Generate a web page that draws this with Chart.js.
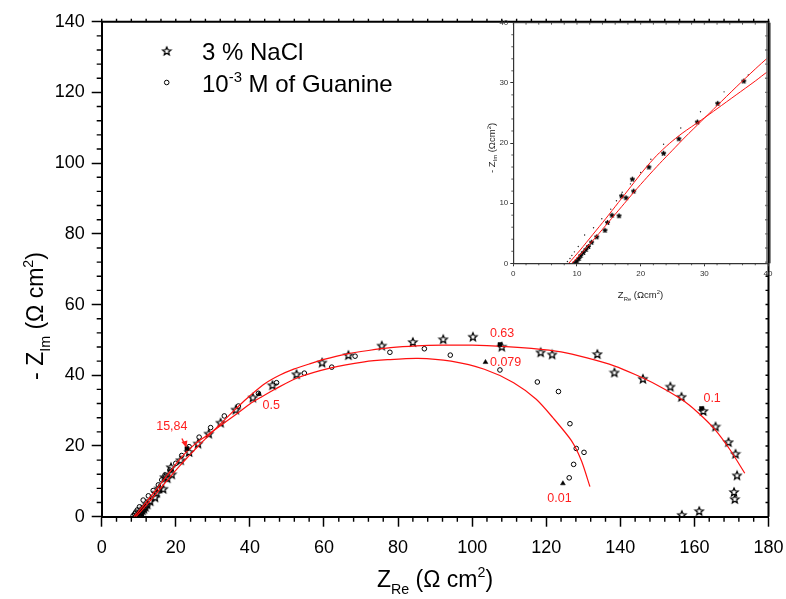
<!DOCTYPE html>
<html>
<head>
<meta charset="utf-8">
<script src="https://cdn.jsdelivr.net/npm/chart.js@4/dist/chart.umd.min.js"></script>
<style>
  html, body { margin: 0; padding: 0; background: #fff; }
  #wrap { position: relative; width: 786px; height: 599px; overflow: hidden; }
  #main { position: absolute; left: 0; top: 0; }
  #inset { position: absolute; left: 470px; top: 0; }
</style>
</head>
<body>
<div id="wrap">
  <canvas id="main" width="786" height="599"></canvas>
  <canvas id="inset" width="316" height="310"></canvas>
</div>
<script>
// ---- Nyquist data (Ω cm²) ----
// 3 % NaCl blank
const naclRe = [9.7,10.0,10.3,10.6,11.0,11.4,11.8,12.3,13.1,14.4,14.8,15.5,16.6,17.0,17.7,18.9,18.7,21.3,23.6,26.0,28.9,32.1,36.2,40.8,46.1,52.6,59.5,66.6,75.6,84.0,92.2,100.2,108.0,118.5,121.6,133.8,138.4,146.1,153.5,156.5,162.4,165.7,169.2,171.1,171.5,170.7,170.9,161.3,156.6];
const naclIm = [0.1,0.4,0.8,1.3,1.8,2.3,2.8,3.5,4.4,5.5,6.8,8.0,7.9,11.2,10.9,12.0,14.0,16.0,18.3,20.7,23.5,26.6,30.3,33.7,37.2,40.3,43.6,45.7,48.4,49.4,50.2,50.9,48.1,46.5,45.9,46.0,40.8,39.0,36.8,33.9,29.9,25.5,21.1,17.8,11.7,7.0,5.0,1.6,0.5];

// 10^-3 M guanine
const guaRe = [8.5,8.9,9.2,9.6,10.2,11.2,12.6,13.9,15.3,16.2,17.1,18.4,20.0,21.6,23.6,26.3,29.4,33.1,36.9,42.3,47.2,54.7,62.1,68.4,77.8,87.1,94.1,107.5,117.6,123.3,126.4,130.2,128.1,127.4,126.2];
const guaIm = [0.3,0.8,1.3,1.9,2.8,4.7,5.9,7.4,9.0,10.4,11.8,13.2,15.1,17.3,19.8,22.5,25.2,28.5,31.3,34.9,37.9,40.6,42.3,45.4,46.5,47.5,45.7,41.5,38.1,35.4,26.3,18.2,19.3,14.8,11.0];

// fitted equivalent-circuit curves
const naclFitRe = [9.2,11,13,15,17,19,21,23,25,27,29.5,32,35,38,40,44,48,52,56,60,66,72,78,85,92,100,108,116,124,131,138.5,144,150,156.5,161,165.5,169.7,173.6];
const naclFitIm = [0,2.0,4.4,6.9,9.4,11.9,14.3,16.6,18.8,21.0,23.6,26.2,29.3,32.3,34.2,37.6,40.0,41.8,43.2,44.5,46.0,47.0,47.8,48.3,48.5,48.5,48.2,47.6,46.6,44.9,42.6,40.2,37.2,33.2,29.4,24.7,18.8,12.3];
const guaFitRe = [8.7,10.5,12.5,14.5,16.5,18.5,20.5,22.5,24.5,26.5,29.5,32,35,38,40,43,47,52.9,61.9,70.9,77.2,85.3,94.3,103.3,111.2,117.3,121.8,126.8,129.5,131.8];
const guaFitIm = [0,2.2,4.8,7.4,10.1,12.8,15.5,17.9,19.9,21.6,23.8,25.7,28.0,30.3,31.9,33.8,36.2,39.3,42.1,43.8,44.4,44.8,44.0,41.7,37.9,33.2,28.0,21.5,15.8,8.5];

// marked frequencies (Hz)
const freqLabels = ['15,84','0.5','0.63','0.079','0.1','0.01'];
const freqRe = [23.0, 42.5, 107.5, 103.6, 161.9, 124.5];
const freqIm = [19.3, 34.7, 48.7, 43.7, 30.6, 9.4];

// axis ticks
const xTicks = [0,20,40,60,80,100,120,140,160,180];
const yTicks = [0,20,40,60,80,100,120,140];
const insetTicks = [0,10,20,30,40];

// ---- drawing helpers ----
const FONT = '"Liberation Sans", Arial, Helvetica, sans-serif';
const pts = (xs, ys) => xs.map((x, i) => ({ x, y: ys[i] }));

function starImage(r, filled, lw) {
  const s = Math.ceil(r * 2 + 3);
  const c = document.createElement('canvas');
  c.width = c.height = s;
  const g = c.getContext('2d');
  g.translate(s / 2, s / 2 + r * 0.08);
  g.beginPath();
  for (let i = 0; i < 10; i++) {
    const a = -Math.PI / 2 + i * Math.PI / 5;
    const rr = i % 2 ? r * 0.45 : r;
    g.lineTo(rr * Math.cos(a), rr * Math.sin(a));
  }
  g.closePath();
  if (filled) { g.fillStyle = '#000'; g.fill(); }
  g.lineWidth = lw; g.strokeStyle = '#000'; g.stroke();
  return c;
}
const starOpen = starImage(4.3, false, 1.25);
const starTiny = starImage(2.6, true, 0.8);

function partFont(p, size) {
  return ((p.k === 'sub' || p.k === 'sup') ? size * 0.62 : size) + 'px ' + FONT;
}
function drawRich(ctx, parts, x, y, size, align, color) {
  ctx.save();
  ctx.fillStyle = color || '#000';
  ctx.textAlign = 'left';
  ctx.textBaseline = 'alphabetic';
  let w = 0;
  for (const p of parts) { ctx.font = partFont(p, size); w += ctx.measureText(p.t).width; }
  let cx = align === 'center' ? x - w / 2 : x;
  for (const p of parts) {
    ctx.font = partFont(p, size);
    const dy = p.k === 'sub' ? size * 0.3 : p.k === 'sup' ? -size * 0.42 : 0;
    ctx.fillText(p.t, cx, y + dy);
    cx += ctx.measureText(p.t).width;
  }
  ctx.restore();
}

const xTitle = [{ t: 'Z' }, { t: 'Re', k: 'sub' }, { t: ' (Ω cm' }, { t: '2', k: 'sup' }, { t: ')' }];
const yTitle = [{ t: '- Z' }, { t: 'Im', k: 'sub' }, { t: ' (Ω cm' }, { t: '2', k: 'sup' }, { t: ')' }];
const xTitleS = [{ t: 'Z' }, { t: 'Re', k: 'sub' }, { t: ' (Ωcm' }, { t: '2', k: 'sup' }, { t: ')' }];
const yTitleS = [{ t: '- Z' }, { t: 'Im', k: 'sub' }, { t: ' (Ωcm' }, { t: '2', k: 'sup' }, { t: ')' }];

// frame: top/right borders and minor ticks
function frameTicks(chart, o) {
  const { ctx, chartArea: a, scales: { x, y } } = chart;
  ctx.save();
  ctx.strokeStyle = o.color;
  ctx.lineWidth = o.border;
  ctx.beginPath();
  ctx.moveTo(a.left, a.top); ctx.lineTo(a.right, a.top);
  if (o.rightLine) ctx.lineTo(a.right, a.bottom);
  ctx.stroke();
  ctx.lineWidth = o.tickW;
  ctx.beginPath();
  for (let v = x.min; v <= x.max + 1e-9; v += o.minor) {
    const px = x.getPixelForValue(v);
    if (Math.abs(v % o.major) > 1e-6) { ctx.moveTo(px, a.bottom); ctx.lineTo(px, a.bottom + o.minorLen); }
    ctx.moveTo(px, a.top); ctx.lineTo(px, a.top + o.topLen);
  }
  for (let v = y.min; v <= y.max + 1e-9; v += o.minor) {
    const py = y.getPixelForValue(v);
    if (Math.abs(v % o.major) > 1e-6) { ctx.moveTo(a.left, py); ctx.lineTo(a.left - o.minorLen, py); }
    ctx.moveTo(a.right, py); ctx.lineTo(a.right - o.rightLen, py);
  }
  ctx.stroke();
  ctx.restore();
}

// keep the plot box fixed: no extra room for overhanging edge labels
const noEdgePad = s => { s.paddingLeft = 0; s.paddingRight = 0; s.paddingTop = 0; s.paddingBottom = 0; };

const mainDecor = {
  id: 'mainDecor',
  afterDraw(chart) {
    const { ctx, scales: { x, y } } = chart;
    frameTicks(chart, { color: '#000', border: 2, tickW: 1.4, minor: 4, major: 20, minorLen: 5, topLen: -3, rightLen: 3, rightLine: true });

    // axis titles
    drawRich(ctx, xTitle, 435, 587, 23, 'center');
    ctx.save();
    ctx.translate(43, 316);
    ctx.rotate(-Math.PI / 2);
    drawRich(ctx, yTitle, 0, 0, 23, 'center');
    ctx.restore();

    // legend
    ctx.drawImage(starOpen, 166.7 - starOpen.width / 2, 51 - starOpen.height / 2);
    ctx.save();
    ctx.lineWidth = 1; ctx.strokeStyle = '#000';
    ctx.beginPath(); ctx.arc(166.7, 82.5, 2.3, 0, Math.PI * 2); ctx.stroke();
    ctx.restore();
    drawRich(ctx, [{ t: '3 % NaCl' }], 202, 60, 24, 'left');
    drawRich(ctx, [{ t: '10' }, { t: '-3', k: 'sup' }, { t: ' M of Guanine' }], 202, 92, 24, 'left');

    // frequency labels
    const off = [[-30.7, -18.3], [3.4, 15], [-10, -7.5], [4.5, 4], [2, -6.5], [-15.6, 18.4]];
    ctx.save();
    ctx.fillStyle = '#ff1f1f';
    ctx.font = '12.5px ' + FONT;
    ctx.textBaseline = 'alphabetic';
    freqLabels.forEach((t, i) => {
      const px = x.getPixelForValue(freqRe[i]), py = y.getPixelForValue(freqIm[i]);
      ctx.fillText(t, px + off[i][0], py + off[i][1]);
    });
    // arrow to the 15,84 Hz point
    const ax = x.getPixelForValue(freqRe[0]), ay = y.getPixelForValue(freqIm[0]);
    ctx.strokeStyle = '#ff1f1f';
    ctx.lineWidth = 1.3;
    ctx.beginPath(); ctx.moveTo(ax - 5, ay - 10); ctx.lineTo(ax - 1.5, ay - 3); ctx.stroke();
    ctx.beginPath();
    ctx.moveTo(ax - 0.5, ay - 1); ctx.lineTo(ax - 5.5, ay - 6.5); ctx.lineTo(ax + 0.5, ay - 8);
    ctx.closePath(); ctx.fill();
    ctx.restore();
  }
};

new Chart(document.getElementById('main'), {
  type: 'scatter',
  data: {
    datasets: [
      { label: 'freq', data: pts(freqRe, freqIm), pointStyle: ['rect', 'triangle', 'rect', 'triangle', 'rect', 'triangle'],
        pointRadius: 2.8, backgroundColor: '#000', borderColor: '#000', borderWidth: 0.5, order: 0 },
      { label: 'NaCl fit', data: pts(naclFitRe, naclFitIm), showLine: true, borderColor: '#ff1010', borderWidth: 1.2,
        pointRadius: 0, tension: 0.25, order: 1 },
      { label: 'Guanine fit', data: pts(guaFitRe, guaFitIm), showLine: true, borderColor: '#ff1010', borderWidth: 1.2,
        pointRadius: 0, tension: 0.25, order: 1 },
      { label: 'Guanine', data: pts(guaRe, guaIm), pointStyle: 'circle', pointRadius: 2.3, borderWidth: 1,
        borderColor: '#000', backgroundColor: 'rgba(0,0,0,0)', order: 2 },
      { label: '3 % NaCl', data: pts(naclRe, naclIm), pointStyle: starOpen, pointRadius: 4, order: 3 }
    ]
  },
  options: {
    responsive: false, animation: false, devicePixelRatio: 1, events: [],
    layout: { padding: { top: 21.7, right: 17.5, left: 0, bottom: 0 } },
    plugins: { legend: { display: false }, tooltip: { enabled: false } },
    scales: {
      x: {
        type: 'linear', min: 0, max: 180,
        afterBuildTicks: s => { s.ticks = xTicks.map(v => ({ value: v })); },
        afterFit: s => { s.height = 82.3; noEdgePad(s); },
        ticks: { font: { family: FONT, size: 18 }, color: '#000', padding: 11, maxRotation: 0, autoSkip: false },
        grid: { drawOnChartArea: false, tickLength: 10, tickColor: '#000', tickWidth: 1.5 },
        border: { display: true, color: '#000', width: 2 }
      },
      y: {
        type: 'linear', min: 0, max: 140,
        afterBuildTicks: s => { s.ticks = yTicks.map(v => ({ value: v })); },
        afterFit: s => { s.width = 101.7; noEdgePad(s); },
        ticks: { font: { family: FONT, size: 18 }, color: '#000', padding: 7, autoSkip: false },
        grid: { drawOnChartArea: false, tickLength: 10, tickColor: '#000', tickWidth: 1.5 },
        border: { display: true, color: '#000', width: 2 }
      }
    }
  },
  plugins: [mainDecor]
});

// ---- inset: high-frequency region ----
const insetDecor = {
  id: 'insetDecor',
  afterDraw(chart) {
    const { ctx, chartArea: a } = chart;
    frameTicks(chart, { color: '#333', border: 1, tickW: 0.8, minor: 2, major: 10, minorLen: 2, topLen: 2, rightLen: 0, rightLine: false });
    // heavy right edge
    ctx.save();
    ctx.fillStyle = 'rgba(120,120,120,0.85)';
    ctx.fillRect(a.right - 2, a.top, 5, a.bottom - a.top);
    ctx.strokeStyle = '#000'; ctx.lineWidth = 1.5;
    ctx.beginPath(); ctx.moveTo(a.right + 0.8, a.top); ctx.lineTo(a.right + 0.8, a.bottom); ctx.stroke();
    ctx.restore();
    drawRich(ctx, xTitleS, 170.5, 298, 9.5, 'center', '#222');
    ctx.save();
    ctx.translate(24.5, 148);
    ctx.rotate(-Math.PI / 2);
    drawRich(ctx, yTitleS, 0, 0, 9.5, 'center', '#222');
    ctx.restore();
  }
};

new Chart(document.getElementById('inset'), {
  type: 'scatter',
  data: {
    datasets: [
      { label: 'NaCl fit', data: pts(naclFitRe, naclFitIm), showLine: true, borderColor: '#ff1010', borderWidth: 1,
        pointRadius: 0, tension: 0.25, order: 0 },
      { label: 'Guanine fit', data: pts(guaFitRe, guaFitIm), showLine: true, borderColor: '#ff1010', borderWidth: 1,
        pointRadius: 0, tension: 0.25, order: 0 },
      { label: '3 % NaCl', data: pts(naclRe, naclIm), pointStyle: starTiny, pointRadius: 2.6, order: 1 },
      { label: 'Guanine', data: pts(guaRe, guaIm), pointStyle: 'circle', pointRadius: 0.7, borderWidth: 0,
        backgroundColor: '#222', order: 2 }
    ]
  },
  options: {
    responsive: false, animation: false, devicePixelRatio: 1, events: [],
    layout: { padding: { top: 22.7, right: 18, left: 0, bottom: 0 } },
    plugins: { legend: { display: false }, tooltip: { enabled: false } },
    scales: {
      x: {
        type: 'linear', min: 0, max: 40,
        afterBuildTicks: s => { s.ticks = insetTicks.map(v => ({ value: v })); },
        afterFit: s => { s.height = 46.7; noEdgePad(s); },
        ticks: { font: { family: FONT, size: 8 }, color: '#333', padding: 3, maxRotation: 0, autoSkip: false },
        grid: { drawOnChartArea: false, tickLength: 3, tickColor: '#333', tickWidth: 1 },
        border: { display: true, color: '#333', width: 1.2 }
      },
      y: {
        type: 'linear', min: 0, max: 40,
        afterBuildTicks: s => { s.ticks = insetTicks.map(v => ({ value: v })); },
        afterFit: s => { s.width = 43.3; noEdgePad(s); },
        ticks: { font: { family: FONT, size: 8 }, color: '#333', padding: 2, autoSkip: false },
        grid: { drawOnChartArea: false, tickLength: 3, tickColor: '#333', tickWidth: 1 },
        border: { display: true, color: '#333', width: 1.2 }
      }
    }
  },
  plugins: [insetDecor]
});
</script>
</body>
</html>
